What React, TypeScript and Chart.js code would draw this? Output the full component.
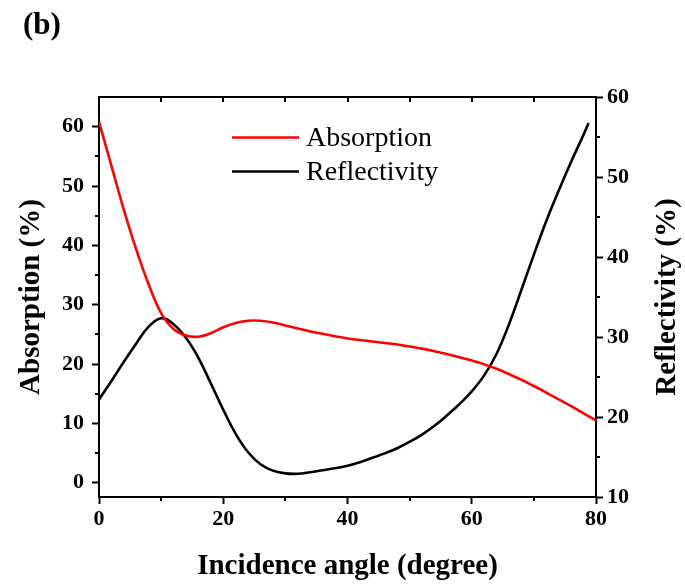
import React, { useEffect, useRef } from "react";
import { Chart, registerables } from "chart.js";

Chart.register(...registerables);

const absorptionAngles = [0, 2, 4, 6, 8, 10, 12, 14, 16, 18, 20, 22, 24, 26, 28, 30, 32, 34, 36, 38, 40, 42, 44, 46, 48, 50, 52, 54, 56, 58, 60, 62, 64, 66, 68, 70, 72, 74, 76, 78, 80];
const absorptionValues = [60.8, 53.4, 46.0, 39.3, 33.4, 28.6, 25.9, 24.8, 24.6, 25.2, 26.2, 26.9, 27.3, 27.3, 27.0, 26.5, 26.0, 25.5, 25.1, 24.7, 24.3, 24.05, 23.8, 23.55, 23.3, 22.95, 22.6, 22.15, 21.7, 21.15, 20.6, 19.95, 19.2, 18.3, 17.35, 16.3, 15.2, 14.05, 12.9, 11.7, 10.5];

const reflectAngles = [0, 2, 4, 6, 8, 10, 12, 14, 16, 18, 20, 22, 24, 26, 28, 30, 32, 34, 36, 38, 40, 42, 44, 46, 48, 50, 52, 54, 56, 58, 60, 62, 64, 66, 68, 70, 72, 74, 76, 78, 78.8];
const reflectValues = [22.2, 24.5, 26.9, 29.2, 31.3, 32.35, 31.6, 29.9, 27.4, 24.2, 20.9, 17.9, 15.6, 14.1, 13.3, 12.95, 12.9, 13.1, 13.35, 13.6, 13.9, 14.35, 14.9, 15.45, 16.1, 16.9, 17.8, 18.9, 20.2, 21.6, 23.2, 25.2, 27.9, 31.6, 35.9, 40.3, 44.5, 48.3, 51.9, 55.3, 56.75];

const xTicks = [0, 20, 40, 60, 80];
const xMinorTicks = [10, 30, 50, 70];
const xTopTicks = [10, 20, 30, 40, 50, 60, 70];
const leftTicks = [0, 10, 20, 30, 40, 50, 60];
const leftMinorTicks = [5, 15, 25, 35, 45, 55];
const rightTicks = [10, 20, 30, 40, 50, 60];
const rightMinorTicks = [15, 25, 35, 45, 55];

const seriesLabels = ["Absorption", "Reflectivity"];
const seriesColors = ["#ff0000", "#000000"];
const xTitle = "Incidence angle (degree)";
const leftTitle = "Absorption (%)";
const rightTitle = "Reflectivity (%)";
const panelLabel = "(b)";

const FONT = "'Liberation Serif', 'Times New Roman', serif";

const decor = {
  id: "decor",
  afterDraw(chart: any) {
    const ctx = chart.ctx as CanvasRenderingContext2D;
    const a = chart.chartArea;
    const sx = chart.scales.x;
    const sl = chart.scales.yA;
    const sr = chart.scales.yR;
    ctx.save();
    ctx.strokeStyle = "#000";
    ctx.lineWidth = 2;
    ctx.beginPath();
    ctx.moveTo(a.left - 1, a.top);
    ctx.lineTo(a.right + 1, a.top);
    ctx.stroke();
    ctx.beginPath();
    xMinorTicks.forEach((v) => {
      const px = Math.round(sx.getPixelForValue(v));
      ctx.moveTo(px, a.bottom);
      ctx.lineTo(px, a.bottom + 4);
    });
    xTopTicks.forEach((v) => {
      const px = Math.round(sx.getPixelForValue(v));
      ctx.moveTo(px, a.top);
      ctx.lineTo(px, a.top + 5);
    });
    leftMinorTicks.forEach((v) => {
      const py = Math.round(sl.getPixelForValue(v));
      ctx.moveTo(a.left, py);
      ctx.lineTo(a.left - 4, py);
    });
    rightMinorTicks.forEach((v) => {
      const py = Math.round(sr.getPixelForValue(v));
      ctx.moveTo(a.right, py);
      ctx.lineTo(a.right + 4, py);
    });
    ctx.stroke();

    const legendY = [137.5, 171.5];
    ctx.font = `28px ${FONT}`;
    ctx.textBaseline = "middle";
    ctx.textAlign = "left";
    seriesLabels.forEach((lab, i) => {
      ctx.strokeStyle = seriesColors[i];
      ctx.lineWidth = 2.6;
      ctx.beginPath();
      ctx.moveTo(232, legendY[i]);
      ctx.lineTo(299, legendY[i]);
      ctx.stroke();
      ctx.fillStyle = "#000";
      ctx.fillText(lab, 306, legendY[i] + 1);
    });

    ctx.fillStyle = "#000";
    ctx.font = `bold 29px ${FONT}`;
    ctx.textAlign = "center";
    ctx.textBaseline = "alphabetic";
    ctx.fillText(xTitle, (a.left + a.right) / 2, 574);

    const midY = (a.top + a.bottom) / 2;
    ctx.save();
    ctx.translate(39, midY);
    ctx.rotate(-Math.PI / 2);
    ctx.fillText(leftTitle, 0, 0);
    ctx.restore();

    ctx.save();
    ctx.translate(675, midY);
    ctx.rotate(-Math.PI / 2);
    ctx.fillText(rightTitle, 0, 0);
    ctx.restore();

    ctx.font = `bold 31px ${FONT}`;
    ctx.textAlign = "left";
    ctx.fillText(panelLabel, 23, 34);
    ctx.restore();
  },
};

const tickFont = { family: FONT, size: 22, weight: "bold" as const };
const gridOpts = {
  drawOnChartArea: false,
  drawTicks: true,
  tickLength: 7,
  tickWidth: 2,
  tickColor: "#000",
};
const borderOpts = { display: true, width: 2, color: "#000" };

export default function App() {
  const ref = useRef<HTMLCanvasElement>(null);
  useEffect(() => {
    const chart = new Chart(ref.current!, {
      type: "line",
      data: {
        datasets: [
          {
            label: seriesLabels[0],
            data: absorptionAngles.map((x, i) => ({ x, y: absorptionValues[i] })),
            borderColor: seriesColors[0],
            borderWidth: 2.6,
            pointRadius: 0,
            fill: false,
            yAxisID: "yA",
            tension: 0.4,
          },
          {
            label: seriesLabels[1],
            data: reflectAngles.map((x, i) => ({ x, y: reflectValues[i] })),
            borderColor: seriesColors[1],
            borderWidth: 2.6,
            pointRadius: 0,
            fill: false,
            yAxisID: "yR",
            tension: 0.4,
          },
        ],
      },
      options: {
        responsive: false,
        animation: false,
        layout: { padding: { top: 97, left: 0, right: 0, bottom: 0 } },
        plugins: { legend: { display: false }, tooltip: { enabled: false } },
        scales: {
          x: {
            type: "linear",
            position: "bottom",
            min: 0,
            max: 80,
            afterFit: (s: any) => { s.height = 87; },
            afterBuildTicks: (s: any) => { s.ticks = xTicks.map((v) => ({ value: v })); },
            grid: gridOpts,
            border: borderOpts,
            ticks: { font: tickFont, color: "#000", padding: 2, maxRotation: 0, autoSkip: false },
          },
          yA: {
            type: "linear",
            position: "left",
            min: -2.4,
            max: 65,
            afterFit: (s: any) => { s.width = 99; },
            afterBuildTicks: (s: any) => { s.ticks = leftTicks.map((v) => ({ value: v })); },
            grid: gridOpts,
            border: borderOpts,
            ticks: { font: tickFont, color: "#000", padding: 8, autoSkip: false },
          },
          yR: {
            type: "linear",
            position: "right",
            min: 10,
            max: 60,
            afterFit: (s: any) => { s.width = 89; },
            afterBuildTicks: (s: any) => { s.ticks = rightTicks.map((v) => ({ value: v })); },
            grid: gridOpts,
            border: borderOpts,
            ticks: { font: tickFont, color: "#000", padding: 4, autoSkip: false },
          },
        },
      },
      plugins: [decor],
    } as any);
    return () => chart.destroy();
  }, []);
  return (
    <div style={{ position: "absolute", left: 0, top: 0, width: 685, height: 584, background: "#fff" }}>
      <canvas ref={ref} width={685} height={584} style={{ display: "block" }} />
    </div>
  );
}
